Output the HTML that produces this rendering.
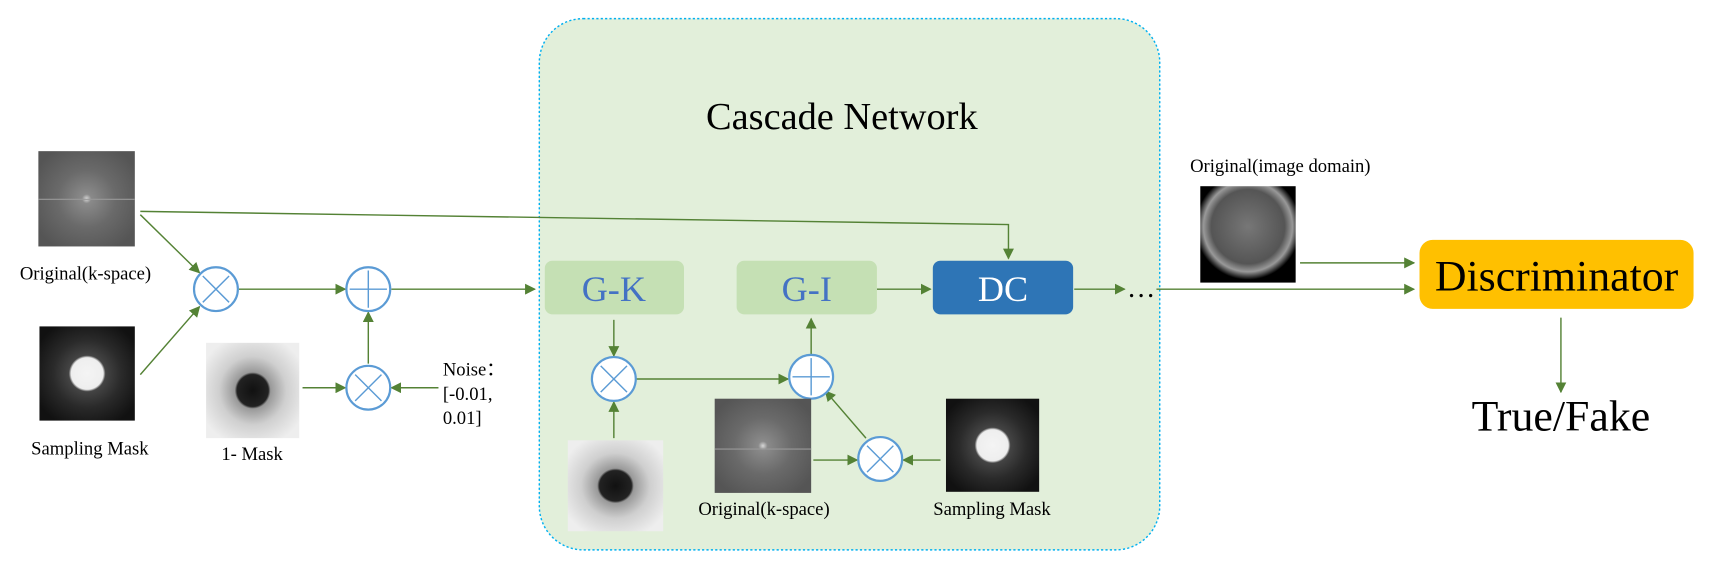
<!DOCTYPE html>
<html><head><meta charset="utf-8"><style>html,body{margin:0;padding:0;background:#fff;}svg{display:block;}svg text{font-family:"Liberation Serif","DejaVu Serif",serif;}</style></head>
<body>
<svg width="1710" height="563" viewBox="0 0 1560 514" preserveAspectRatio="none" xmlns="http://www.w3.org/2000/svg">
<defs>
<marker id="a" markerWidth="10" markerHeight="10" refX="9" refY="5" orient="auto" markerUnits="userSpaceOnUse"><path d="M0,0 L10,5 L0,10 z" fill="#548235"/></marker>
<radialGradient id="ks" cx="50%" cy="50%" r="60%"><stop offset="0" stop-color="#d8d8d8"/><stop offset="0.08" stop-color="#8a8a8a"/><stop offset="0.5" stop-color="#6a6a6a"/><stop offset="1" stop-color="#555"/></radialGradient>
<radialGradient id="sm" cx="50%" cy="50%" r="60%"><stop offset="0" stop-color="#f4f4f4"/><stop offset="0.28" stop-color="#eee"/><stop offset="0.32" stop-color="#444"/><stop offset="0.6" stop-color="#2a2a2a"/><stop offset="1" stop-color="#111"/></radialGradient>
<radialGradient id="im" cx="50%" cy="50%" r="60%"><stop offset="0" stop-color="#111"/><stop offset="0.28" stop-color="#222"/><stop offset="0.32" stop-color="#999"/><stop offset="0.6" stop-color="#cfcfcf"/><stop offset="1" stop-color="#eee"/></radialGradient>
<radialGradient id="br" cx="50%" cy="42%" r="55%"><stop offset="0" stop-color="#777"/><stop offset="0.7" stop-color="#555"/><stop offset="0.85" stop-color="#999"/><stop offset="1" stop-color="#000"/></radialGradient>
<g id="mul"><circle r="20" fill="#fff" stroke="#5b9bd5" stroke-width="2"/><path d="M-12,-12 L12,12 M12,-12 L-12,12" stroke="#5b9bd5" stroke-width="1.3"/></g>
<g id="add"><circle r="20" fill="#fff" stroke="#5b9bd5" stroke-width="2"/><path d="M-17,0 L17,0 M0,-17 L0,17" stroke="#5b9bd5" stroke-width="1.3"/></g>
</defs>
<rect x="492" y="17" width="566" height="485" rx="40" fill="#e2efda" stroke="#00b0f0" stroke-width="1.3" stroke-dasharray="2,2"/>
<text x="768" y="118" font-size="35" text-anchor="middle">Cascade Network</text>

<rect x="35" y="138" width="88" height="87" fill="url(#ks)"/><line x1="35" y1="182" x2="123" y2="182" stroke="#999" stroke-width="1"/>
<text x="78" y="255" font-size="17" text-anchor="middle">Original(k-space)</text>
<rect x="36" y="298" width="87" height="86" fill="url(#sm)"/>
<text x="82" y="415" font-size="17" text-anchor="middle">Sampling Mask</text>
<rect x="188" y="313" width="85" height="87" fill="url(#im)"/>
<text x="230" y="420" font-size="17" text-anchor="middle">1- Mask</text>
<text x="404" y="343" font-size="17">Noise：</text>
<text x="404" y="365" font-size="17">[-0.01,</text>
<text x="404" y="387" font-size="17">0.01]</text>

<g stroke="#548235" stroke-width="1.3" fill="none">
<line x1="128" y1="196" x2="182" y2="249" marker-end="url(#a)"/>
<line x1="128" y1="342" x2="182" y2="280" marker-end="url(#a)"/>
<line x1="218" y1="264" x2="315" y2="264" marker-end="url(#a)"/>
<line x1="357" y1="264" x2="488" y2="264" marker-end="url(#a)"/>
<line x1="276" y1="354" x2="315" y2="354" marker-end="url(#a)"/>
<line x1="400" y1="354" x2="357" y2="354" marker-end="url(#a)"/>
<line x1="336" y1="332" x2="336" y2="285" marker-end="url(#a)"/>
<polyline points="128,193 920,205 920,236" marker-end="url(#a)"/>
<line x1="560" y1="292" x2="560" y2="325" marker-end="url(#a)"/>
<line x1="560" y1="400" x2="560" y2="367" marker-end="url(#a)"/>
<line x1="580" y1="346" x2="719" y2="346" marker-end="url(#a)"/>
<line x1="740" y1="325" x2="740" y2="291" marker-end="url(#a)"/>
<line x1="800" y1="264" x2="849" y2="264" marker-end="url(#a)"/>
<line x1="980" y1="264" x2="1026" y2="264" marker-end="url(#a)"/>
<line x1="1055" y1="264" x2="1290" y2="264" marker-end="url(#a)"/>
<line x1="1186" y1="240" x2="1290" y2="240" marker-end="url(#a)"/>
<line x1="1424" y1="290" x2="1424" y2="358" marker-end="url(#a)"/>
<line x1="742" y1="420" x2="782" y2="420" marker-end="url(#a)"/>
<line x1="858" y1="420" x2="824" y2="420" marker-end="url(#a)"/>
<line x1="790" y1="400" x2="753" y2="357" marker-end="url(#a)"/>
</g>
<use href="#mul" x="197" y="264"/>
<use href="#add" x="336" y="264"/>
<use href="#mul" x="336" y="354"/>
<use href="#mul" x="560" y="346"/>
<use href="#add" x="740" y="344"/>
<use href="#mul" x="803" y="419"/>

<rect x="497" y="238" width="127" height="49" rx="7" fill="#c5e0b4"/>
<text x="560" y="275" font-size="33" fill="#4472c4" text-anchor="middle">G-K</text>
<rect x="672" y="238" width="128" height="49" rx="7" fill="#c5e0b4"/>
<text x="736" y="275" font-size="33" fill="#4472c4" text-anchor="middle">G-I</text>
<rect x="851" y="238" width="128" height="49" rx="7" fill="#2e75b6"/>
<text x="915" y="275" font-size="33" fill="#fff" text-anchor="middle">DC</text>
<text x="1028" y="271" font-size="26">…</text>

<rect x="518" y="402" width="87" height="83" fill="url(#im)"/>
<rect x="652" y="364" width="88" height="86" fill="url(#ks)"/><line x1="652" y1="410" x2="740" y2="410" stroke="#999"/>
<text x="697" y="470" font-size="17" text-anchor="middle">Original(k-space)</text>
<rect x="863" y="364" width="85" height="85" fill="url(#sm)"/>
<text x="905" y="470" font-size="17" text-anchor="middle">Sampling Mask</text>

<text x="1168" y="157" font-size="17" text-anchor="middle">Original(image domain)</text>
<rect x="1095" y="170" width="87" height="88" fill="url(#br)"/>
<rect x="1295" y="219" width="250" height="63" rx="12" fill="#ffc000"/>
<text x="1420" y="265" font-size="40" text-anchor="middle">Discriminator</text>
<text x="1424" y="393" font-size="40" text-anchor="middle">True/Fake</text>
</svg>
</body></html>
